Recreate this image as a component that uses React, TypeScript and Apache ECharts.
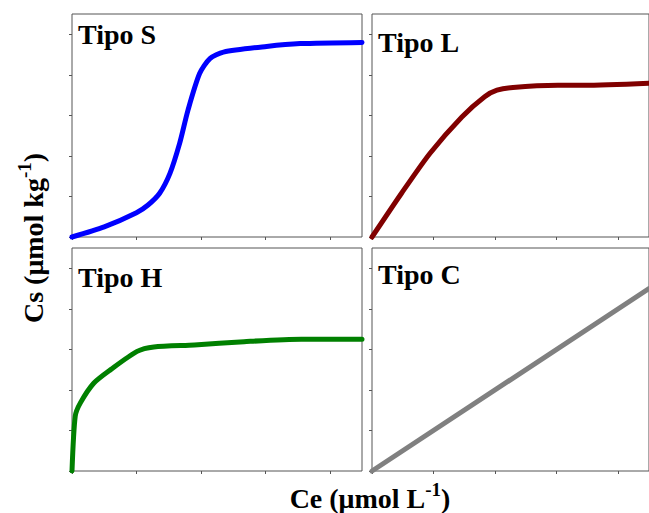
import React, { useEffect, useRef } from "react";
import * as echarts from "echarts";

// Isotherm shapes (Ce on x, Cs on y, arbitrary units)
const xS = [0, 0.5, 1.0, 1.18, 1.36, 1.52, 1.67, 1.8, 1.98, 2.14, 2.35, 3.02, 3.54, 4.5];
const yS = [0, 0.25, 0.6, 0.79, 1.08, 1.57, 2.31, 3.13, 4.03, 4.4, 4.56, 4.7, 4.77, 4.8];

const xL = [0, 0.48, 0.94, 1.46, 1.83, 2.03, 2.29, 3.02, 3.44, 4.5];
const yL = [0, 1.08, 2.06, 2.96, 3.46, 3.62, 3.69, 3.74, 3.74, 3.79];

const xH = [0, 0.05, 0.13, 0.34, 0.6, 1.01, 1.27, 1.9, 2.67, 3.56, 4.5];
const yH = [0, 1.35, 1.68, 2.17, 2.5, 2.95, 3.06, 3.11, 3.19, 3.25, 3.25];

const xC = [0, 4.5];
const yC = [0, 4.5];

const panelTitles = ["Tipo S", "Tipo L", "Tipo H", "Tipo C"];
const panelColors = ["#0000ff", "#800000", "#008000", "#808080"];
const xTicks = [0, 1, 2, 3, 4];
const yTicks = [0, 1, 2, 3, 4, 5];

const FONT = "'Liberation Serif', 'Times New Roman', serif";

const zip = (xs: number[], ys: number[]) => xs.map((x, i) => [x, ys[i]]);

export default function App() {
  const ref = useRef<HTMLDivElement>(null);

  useEffect(() => {
    if (!ref.current) return;
    const chart = echarts.init(ref.current, null, { renderer: "svg" });

    const grids = [
      { left: 72, top: 14, width: 290, height: 223 },
      { left: 372, top: 14, width: 290, height: 223 },
      { left: 72, top: 248, width: 290, height: 223 },
      { left: 372, top: 248, width: 290, height: 223 },
    ];
    // vertical offset of each panel's title from its frame top
    const titleOffsets = [6, 14, 15, 12];
    const datasets = [zip(xS, yS), zip(xL, yL), zip(xH, yH), zip(xC, yC)];
    const axisRich = {
      m: { font: `bold 28px ${FONT}`, fill: "#000", verticalAlign: "bottom", lineHeight: 32 },
      s: { font: `bold 19px ${FONT}`, fill: "#000", verticalAlign: "top", lineHeight: 32 },
    };

    chart.setOption({
      animation: false,
      backgroundColor: "#ffffff",
      grid: grids.map((g) => ({
        ...g,
        show: true,
        borderColor: "#555555",
        borderWidth: 1,
        containLabel: false,
      })),
      xAxis: grids.map((_, i) => ({
        type: "value",
        gridIndex: i,
        min: 0,
        max: 4.5,
        interval: 1,
        axisLine: { show: false },
        axisLabel: { show: false },
        splitLine: { show: false },
        axisTick: {
          show: true,
          length: 3,
          inside: false,
          customValues: xTicks,
          lineStyle: { color: "#555555", width: 1 },
        },
      })),
      yAxis: grids.map((_, i) => ({
        type: "value",
        gridIndex: i,
        min: 0,
        max: 5.5,
        interval: 1,
        axisLine: { show: false },
        axisLabel: { show: false },
        splitLine: { show: false },
        axisTick: {
          show: true,
          length: 3,
          inside: false,
          customValues: yTicks,
          lineStyle: { color: "#555555", width: 1 },
        },
      })),
      series: datasets.map((d, i) => ({
        type: "line",
        xAxisIndex: i,
        yAxisIndex: i,
        data: d,
        smooth: 0.25,
        showSymbol: false,
        clip: false,
        lineStyle: { color: panelColors[i], width: 5, cap: "round", join: "round" },
      })),
      graphic: [
        ...panelTitles.map((t, i) => ({
          type: "text",
          left: grids[i].left + 6,
          top: grids[i].top + titleOffsets[i],
          style: {
            text: t,
            font: `bold 28px ${FONT}`,
            fill: "#000000",
          },
        })),
        {
          type: "text",
          x: 370,
          y: 496,
          style: {
            text: "{m|Ce (μmol L}{s|-1}{m|)}",
            textAlign: "center",
            textVerticalAlign: "middle",
            rich: axisRich,
          },
        },
        {
          type: "text",
          x: 31,
          y: 238,
          rotation: Math.PI / 2,
          style: {
            text: "{m|Cs (μmol kg}{s|-1}{m|)}",
            textAlign: "center",
            textVerticalAlign: "middle",
            rich: axisRich,
          },
        },
      ],
    });

    return () => chart.dispose();
  }, []);

  return (
    <div
      ref={ref}
      style={{ position: "fixed", left: 0, top: 0, width: 649, height: 513 }}
    />
  );
}
